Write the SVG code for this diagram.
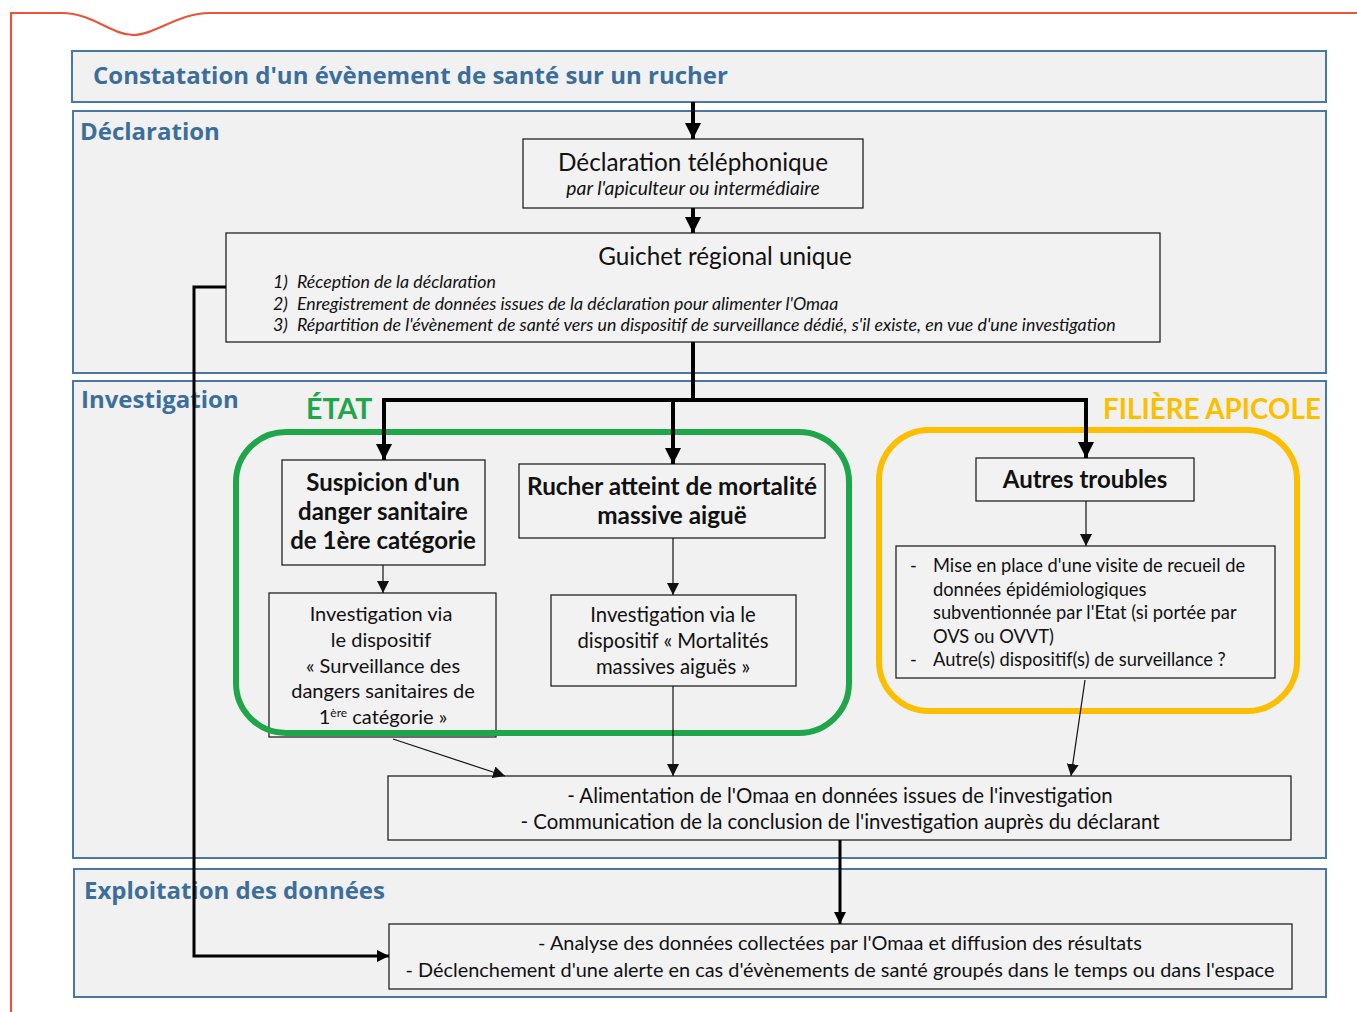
<svg xmlns="http://www.w3.org/2000/svg" width="1357" height="1012" viewBox="0 0 1357 1012">
<defs>
<style>
.band{fill:#f1f1f1;stroke:#4a77a3;stroke-width:2}
.bt{font-family:"Open Sans",Lato,sans-serif;font-weight:bold;font-size:24px;fill:#3c6e9c}
.box{fill:#f2f2f2;stroke:#222;stroke-width:1.3}
.t{font-family:Lato,"Open Sans",sans-serif;fill:#111}
.b{font-weight:bold}
.i{font-style:italic}
.thick{fill:none;stroke:#000;stroke-width:4}
.mid{fill:none;stroke:#000;stroke-width:3}
.thin{fill:none;stroke:#111;stroke-width:1.2}
</style>
<marker id="ab" viewBox="0 0 10 10" refX="10" refY="5" markerWidth="4" markerHeight="4" markerUnits="strokeWidth" orient="auto"><path d="M0,0 L10,5 L0,10 z" fill="#000"/></marker>
<marker id="am" viewBox="0 0 10 10" refX="10" refY="5" markerWidth="4" markerHeight="4" markerUnits="strokeWidth" orient="auto"><path d="M0,0 L10,5 L0,10 z" fill="#000"/></marker>
<marker id="as" viewBox="0 0 10 10" refX="10" refY="5" markerWidth="10" markerHeight="10" markerUnits="strokeWidth" orient="auto"><path d="M0,0 L10,5 L0,10 z" fill="#111"/></marker>
</defs>
<rect width="1357" height="1012" fill="#fff"/>
<path d="M11,1012 L11,13 L62,13 C92,13 112,35 133,35 C155,35 178,13 210,13 L1357,13" fill="none" stroke="#e8553c" stroke-width="2.2"/>

<g id="band-constatation"><rect class="band" x="72" y="51" width="1254" height="51"/><text class="bt" x="93" y="84">Constatation d'un évènement de santé sur un rucher</text></g>
<g id="band-declaration"><rect class="band" x="73" y="111" width="1253" height="262"/><text class="bt" x="80" y="140">Déclaration</text></g>
<g id="band-investigation"><rect class="band" x="73" y="381" width="1253" height="477"/><text class="bt" x="81" y="408">Investigation</text></g>
<g id="band-exploitation"><rect class="band" x="74" y="869" width="1252" height="128"/><text class="bt" x="84" y="899">Exploitation des données</text></g>

<g id="node-declaration-tel"><rect class="box" x="523" y="139" width="340" height="69"/>
<text class="t" x="693" y="171" font-size="24.3" text-anchor="middle">Déclaration téléphonique</text>
<text class="t i" x="693" y="195" font-size="19.3" text-anchor="middle">par l'apiculteur ou intermédiaire</text></g>

<g id="node-guichet"><rect class="box" x="226" y="233" width="934" height="109"/>
<text class="t" x="725" y="265" font-size="24.3" text-anchor="middle">Guichet régional unique</text>
<g class="t i" font-size="17.8">
<text x="273" y="288">1)</text><text x="297" y="288">Réception de la déclaration</text>
<text x="273" y="310">2)</text><text x="297" y="310">Enregistrement de données issues de la déclaration pour alimenter l'Omaa</text>
<text x="273" y="331">3)</text><text x="297" y="331">Répartition de l'évènement de santé vers un dispositif de surveillance dédié, s'il existe, en vue d'une investigation</text>
</g></g>

<g id="node-suspicion"><rect class="box" x="282" y="460" width="203" height="105"/>
<g class="t b" font-size="24" text-anchor="middle"><text x="383" y="491">Suspicion d'un</text><text x="383" y="520">danger sanitaire</text><text x="383" y="549">de 1ère catégorie</text></g></g>

<g id="node-rucher"><rect class="box" x="519" y="464" width="306" height="74"/>
<g class="t b" font-size="24.3" text-anchor="middle"><text x="672" y="495">Rucher atteint de mortalité</text><text x="672" y="524">massive aiguë</text></g></g>

<g id="node-autres"><rect class="box" x="976" y="458" width="218" height="43"/>
<text class="t b" x="1085" y="488" font-size="24" text-anchor="middle">Autres troubles</text></g>

<g id="node-invest-1"><rect class="box" x="269" y="593" width="227" height="144"/>
<g class="t" font-size="20" text-anchor="middle"><text x="381" y="621">Investigation via</text><text x="381" y="647">le dispositif</text><text x="383" y="673">« Surveillance des</text><text x="383" y="698">dangers sanitaires de</text><text x="383" y="724">1<tspan font-size="12" dy="-7">ère</tspan><tspan dy="7"> catégorie »</tspan></text></g></g>

<g id="node-invest-2"><rect class="box" x="551" y="595" width="245" height="91"/>
<g class="t" font-size="20.3" text-anchor="middle"><text x="673" y="622">Investigation via le</text><text x="673" y="648">dispositif « Mortalités</text><text x="673" y="674">massives aiguës »</text></g></g>

<g id="node-visite"><rect class="box" x="896" y="546" width="379" height="132"/>
<g class="t" font-size="18.3"><text x="910" y="572">-</text><text x="933" y="572">Mise en place d'une visite de recueil de</text><text x="933" y="596">données épidémiologiques</text><text x="933" y="619">subventionnée par l'Etat (si portée par</text><text x="933" y="643">OVS ou OVVT)</text><text x="910" y="666">-</text><text x="933" y="666">Autre(s) dispositif(s) de surveillance ?</text></g></g>

<g id="node-alimentation"><rect class="box" x="388" y="776" width="903" height="64"/>
<g class="t" font-size="20.4" text-anchor="middle"><text x="840" y="803">- Alimentation de l'Omaa en données issues de l'investigation</text><text x="840" y="829">- Communication de la conclusion de l'investigation auprès du déclarant</text></g></g>

<g id="node-analyse"><rect class="box" x="389" y="924" width="903" height="65"/>
<g class="t" font-size="19.9" text-anchor="middle"><text x="840" y="950">- Analyse des données collectées par l'Omaa et diffusion des résultats</text><text x="840" y="977">- Déclenchement d'une alerte en cas d'évènements de santé groupés dans le temps ou dans l'espace</text></g></g>

<g id="group-etat"><rect x="236" y="432" width="613" height="301" rx="50" fill="none" stroke="#1fa64a" stroke-width="6"/><text x="306" y="419" font-family="Lato,'Open Sans',sans-serif" font-weight="bold" font-size="28.5" fill="#1fa64a">ÉTAT</text></g>
<g id="group-filiere"><rect x="879" y="430" width="418" height="281" rx="50" fill="none" stroke="#fcbf00" stroke-width="6"/><text x="1103" y="419" font-family="Lato,'Open Sans',sans-serif" font-weight="bold" font-size="27.8" fill="#fcbf00">FILIÈRE APICOLE</text></g>

<g id="connectors">
<path class="thick" d="M693,102 V139" marker-end="url(#ab)"/>
<path class="thick" d="M693,208 V233" marker-end="url(#ab)"/>
<path class="thick" d="M693,342 V400"/>
<path class="thick" d="M384,460 V400 H1086 V458" marker-end="url(#ab)"/>
<path class="thick" d="M384,400 V460" marker-end="url(#ab)"/>
<path class="thick" d="M673,400 V464" marker-end="url(#ab)"/>
<path class="mid" d="M226,287 H194 V956 H389" marker-end="url(#am)"/>
<path class="thin" d="M383,565 V593" marker-end="url(#as)"/>
<path class="thin" d="M673,538 V595" marker-end="url(#as)"/>
<path class="thin" d="M1086,501 V546" marker-end="url(#as)"/>
<path class="thin" d="M673,686 V776" marker-end="url(#as)"/>
<path class="thin" d="M393,739 L505,776" marker-end="url(#as)"/>
<path class="thin" d="M1085,680 L1071,776" marker-end="url(#as)"/>
<path class="mid" d="M840,840 V924" marker-end="url(#am)"/>
</g>
</svg>
